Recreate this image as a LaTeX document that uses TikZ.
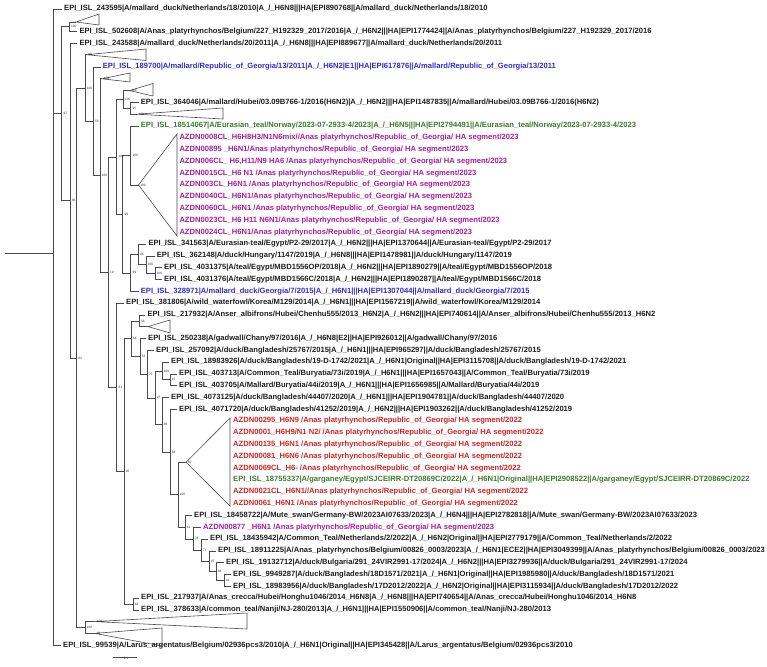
\documentclass[tikz,border=0pt]{standalone}
\usepackage{fontspec}
\setmainfont{Liberation Sans}
\usetikzlibrary{positioning,calc}
\definecolor{treeLine}{HTML}{4A4A4A}
\definecolor{seqBlack}{HTML}{1E1E1E}
\definecolor{seqBlue}{HTML}{2B2FC9}
\definecolor{seqGreen}{HTML}{3C7A2E}
\definecolor{seqMagenta}{HTML}{A61E9C}
\definecolor{seqRed}{HTML}{D02424}
\tikzset{
  branch/.style={draw=treeLine, line width=0.6pt},
  clade/.style={draw=treeLine, line width=0.6pt, line join=miter},
  seq/.style={anchor=west, inner xsep=2pt, inner ysep=0pt, font=\fontsize{7.6}{8}\selectfont\bfseries, text=#1},
  seq/.default=seqBlack,
  boot/.style={anchor=west, inner sep=0.4pt, xshift=1.2pt, font=\fontsize{3.2}{3.5}\selectfont, text=black!80},
}

\begin{document}
\begin{tikzpicture}[x=1pt, y=-1pt]
\useasboundingbox (0,0) rectangle (767,666);

% Inner nodes
\coordinate (nRoot) at (5,253);
\coordinate (nR) at (53.3,253);
\coordinate (nB) at (61.7,113.7);
\coordinate (nA) at (69.3,26.8);
\coordinate (nD) at (70,200.6);
\coordinate (nE) at (76.5,357.9);
\coordinate (nF) at (85,88.2);
\coordinate (nG) at (93.3,121.2);
\coordinate (nI) at (100,175.4);
\coordinate (nN19) at (108.3,272);
\coordinate (nM) at (116.7,156.8);
\coordinate (nJ) at (123.3,99.5);
\coordinate (nK) at (130.7,108.3);
\coordinate (nQ) at (122.7,214.1);
\coordinate (nGM) at (130.7,155.5);
\coordinate (nH) at (130.7,272.8);
\coordinate (nN1) at (138.3,254.3);
\coordinate (nN2) at (146,264.7);
\coordinate (nN3) at (155,273.5);
\coordinate (nN81) at (116.7,387.1);
\coordinate (nN95) at (124,471.2);
\coordinate (nN54) at (131,338.6);
\coordinate (nN56) at (139.3,320.9);
\coordinate (nN53) at (140,356.2);
\coordinate (nN75) at (147,374);
\coordinate (nN97) at (155,397.8);
\coordinate (nNb100) at (162,370.9);
\coordinate (nNb97) at (170,379.7);
\coordinate (nN96) at (162,424.7);
\coordinate (nN88) at (170,451.9);
\coordinate (nN100) at (178,494.6);
\coordinate (nN61) at (185,527.2);
\coordinate (nN78) at (193,538.8);
\coordinate (nN71) at (201,550.3);
\coordinate (nN45) at (209,561.3);
\coordinate (nN84) at (216,571.7);
\coordinate (nN42) at (224,580.3);
\coordinate (nN64) at (133,603.9);
\coordinate (nP) at (85,627.5);

% Collapsed clades
\coordinate (c1) at (76,22);
\coordinate (c2) at (86.5,54.7);
\coordinate (c3) at (102,78.8);
\coordinate (c4) at (129.5,90.6);
\coordinate (c5) at (136.7,114.2);
\coordinate (cMag) at (138.5,185);
\coordinate (c6) at (148,326.6);
\coordinate (cRed) at (186,462.3);
\coordinate (c7) at (95,621.6);
\coordinate (c8) at (95,633.4);
\draw[clade] (c1) -- (99,14) -- (99,25) -- cycle;
\draw[clade] (c2) -- (146,49) -- (146,60.5) -- cycle;
\draw[clade] (c3) -- (130,73) -- (130,82) -- cycle;
\draw[clade] (c4) -- (153,83.5) -- (153,96) -- cycle;
\draw[clade] (c5) -- (223,108) -- (223,119) -- cycle;
\draw[clade] (cMag) -- (177,134) -- (177,236) -- cycle;
\draw[clade] (c6) -- (170,320) -- (170,333) -- cycle;
\draw[clade] (cRed) -- (230,418) -- (230,506) -- cycle;
\draw[clade] (c7) -- (247,613) -- (247,629) -- cycle;
\draw[clade] (c8) -- (162,628) -- (162,646) -- cycle;

% Sequences
\node[seq] (s243595) at (62,9) {EPI\_ISL\_243595|A/mallard\_duck/Netherlands/18/2010|A\_/\_H6N8|||HA|EPI890768||A/mallard\_duck/Netherlands/18/2010};
\node[seq] (s502608) at (77.3,31.6) {EPI\_ISL\_502608|A/Anas\_platyrhynchos/Belgium/227\_H192329\_2017/2016|A\_/\_H6N2|||HA|EPI1774424||A/Anas\_platyrhynchos/Belgium/227\_H192329\_2017/2016};
\node[seq] (s243588) at (77.3,43.4) {EPI\_ISL\_243588|A/mallard\_duck/Netherlands/20/2011|A\_/\_H6N8|||HA|EPI889677||A/mallard\_duck/Netherlands/20/2011};
\node[seq=seqBlue] (s189700) at (100.7,67) {EPI\_ISL\_189700|A/mallard/Republic\_of\_Georgia/13/2011|A\_/\_H6N2|E1||HA|EPI617876||A/mallard/Republic\_of\_Georgia/13/2011};
\node[seq] (s364046) at (138.7,102.4) {EPI\_ISL\_364046|A/mallard/Hubei/03.09B766-1/2016(H6N2)|A\_/\_H6N2|||HA|EPI1487835||A/mallard/Hubei/03.09B766-1/2016(H6N2)};
\node[seq=seqGreen] (s18514067) at (138.7,126) {EPI\_ISL\_18514067|A/Eurasian\_teal/Norway/2023-07-2933-4/2023|A\_/\_H6N5|||HA|EPI2794491||A/Eurasian\_teal/Norway/2023-07-2933-4/2023};
\node[seq=seqMagenta] (g1) at (177.3,137.8) {AZDN0008CL\_H6H8H3/N1N6mix//Anas platyrhynchos/Republic\_of\_Georgia/ HA segment/2023};
\node[seq=seqMagenta] (g2) at (177.3,149.6) {AZDN00895 \_H6N1/Anas platyrhynchos/Republic\_of\_Georgia/ HA segment/2023};
\node[seq=seqMagenta] (g3) at (177.3,161.4) {AZDN006CL\_ H6,H11/N9 HA6 /Anas platyrhynchos/Republic\_of\_Georgia/ HA segment/2023};
\node[seq=seqMagenta] (g4) at (177.3,173.2) {AZDN0015CL\_H6 N1 /Anas platyrhynchos/Republic\_of\_Georgia/ HA segment/2023};
\node[seq=seqMagenta] (g5) at (177.3,185) {AZDN003CL\_H6N1 /Anas platyrhynchos/Republic\_of\_Georgia/ HA segment/2023};
\node[seq=seqMagenta] (g6) at (177.3,196.8) {AZDN0040CL\_H6N1/Anas platyrhynchos/Republic\_of\_Georgia/ HA segment/2023};
\node[seq=seqMagenta] (g7) at (177.3,208.6) {AZDN0060CL\_H6N1 /Anas platyrhynchos/Republic\_of\_Georgia/ HA segment/2023};
\node[seq=seqMagenta] (g8) at (177.3,220.4) {AZDN0023CL\_H6 H11 N6N1/Anas platyrhynchos/Republic\_of\_Georgia/ HA segment/2023};
\node[seq=seqMagenta] (g9) at (177.3,232.2) {AZDN0024CL\_H6N1/Anas platyrhynchos/Republic\_of\_Georgia/ HA segment/2023};
\node[seq] (s341563) at (146.3,244) {EPI\_ISL\_341563|A/Eurasian-teal/Egypt/P2-29/2017|A\_/\_H6N2|||HA|EPI1370644||A/Eurasian-teal/Egypt/P2-29/2017};
\node[seq] (s362148) at (154.7,255.8) {EPI\_ISL\_362148|A/duck/Hungary/1147/2019|A\_/\_H6N8|||HA|EPI1478981||A/duck/Hungary/1147/2019};
\node[seq] (s4031375) at (162,267.6) {EPI\_ISL\_4031375|A/teal/Egypt/MBD1556OP/2018|A\_/\_H6N2|||HA|EPI1890279||A/teal/Egypt/MBD1556OP/2018};
\node[seq] (s4031376) at (162,279.4) {EPI\_ISL\_4031376|A/teal/Egypt/MBD1566C/2018|A\_/\_H6N2|||HA|EPI1890287||A/teal/Egypt/MBD1566C/2018};
\node[seq=seqBlue] (s328971) at (138.7,291.2) {EPI\_ISL\_328971|A/mallard\_duck/Georgia/7/2015|A\_/\_H6N1|||HA|EPI1307044||A/mallard\_duck/Georgia/7/2015};
\node[seq] (s381806) at (124,303) {EPI\_ISL\_381806|A/wild\_waterfowl/Korea/M129/2014|A\_/\_H6N1|||HA|EPI1567219||A/wild\_waterfowl/Korea/M129/2014};
\node[seq] (s217932) at (145.3,314.8) {EPI\_ISL\_217932|A/Anser\_albifrons/Hubei/Chenhu555/2013\_H6N2|A\_/\_H6N2|||HA|EPI740614||A/Anser\_albifrons/Hubei/Chenhu555/2013\_H6N2};
\node[seq] (s250238) at (146,338.4) {EPI\_ISL\_250238|A/gadwall/Chany/97/2016|A\_/\_H6N8|E2||HA|EPI926012||A/gadwall/Chany/97/2016};
\node[seq] (s257092) at (154,350.2) {EPI\_ISL\_257092|A/duck/Bangladesh/25767/2015|A\_/\_H6N1|||HA|EPI965297||A/duck/Bangladesh/25767/2015};
\node[seq] (s18983926) at (169,362) {EPI\_ISL\_18983926|A/duck/Bangladesh/19-D-1742/2021|A\_/\_H6N1|Original||HA|EPI3115708||A/duck/Bangladesh/19-D-1742/2021};
\node[seq] (s403713) at (177,373.8) {EPI\_ISL\_403713|A/Common\_Teal/Buryatia/73i/2019|A\_/\_H6N1|||HA|EPI1657043||A/Common\_Teal/Buryatia/73i/2019};
\node[seq] (s403705) at (177,385.6) {EPI\_ISL\_403705|A/Mallard/Buryatia/44i/2019|A\_/\_H6N1|||HA|EPI1656985||A/Mallard/Buryatia/44i/2019};
\node[seq] (s4073125) at (169,397.4) {EPI\_ISL\_4073125|A/duck/Bangladesh/44407/2020|A\_/\_H6N1|||HA|EPI1904781||A/duck/Bangladesh/44407/2020};
\node[seq] (s4071720) at (177,409.2) {EPI\_ISL\_4071720|A/duck/Bangladesh/41252/2019|A\_/\_H6N2|||HA|EPI1903262||A/duck/Bangladesh/41252/2019};
\node[seq=seqRed] (r1) at (231,421) {AZDN00295\_H6N9 /Anas platyrhynchos/Republic\_of\_Georgia/ HA segment/2022};
\node[seq=seqRed] (r2) at (231,432.8) {AZDN0001\_H6H9/N1 N2/ /Anas platyrhynchos/Republic\_of\_Georgia/ HA segment/2022};
\node[seq=seqRed] (r3) at (231,444.6) {AZDN00135\_H6N1 /Anas platyrhynchos/Republic\_of\_Georgia/ HA segment/2022};
\node[seq=seqRed] (r4) at (231,456.4) {AZDN00081\_H6N6 /Anas platyrhynchos/Republic\_of\_Georgia/ HA segment/2022};
\node[seq=seqRed] (r5) at (231,468.2) {AZDN0069CL\_H6- /Anas platyrhynchos/Republic\_of\_Georgia/ HA segment/2022};
\node[seq=seqGreen] (r6) at (231,480) {EPI\_ISL\_18755337|A/garganey/Egypt/SJCEIRR-DT20869C/2022|A\_/\_H6N1|Original||HA|EPI2908522||A/garganey/Egypt/SJCEIRR-DT20869C/2022};
\node[seq=seqRed] (r7) at (231,491.8) {AZDN0021CL\_H6N1//Anas platyrhynchos/Republic\_of\_Georgia/ HA segment/2022};
\node[seq=seqRed] (r8) at (231,503.6) {AZDN0061\_H6N1 /Anas platyrhynchos/Republic\_of\_Georgia/ HA segment/2022};
\node[seq] (s18458722) at (192,515.4) {EPI\_ISL\_18458722|A/Mute\_swan/Germany-BW/2023AI07633/2023|A\_/\_H6N4|||HA|EPI2782818||A/Mute\_swan/Germany-BW/2023AI07633/2023};
\node[seq=seqMagenta] (s00877) at (201,527.2) {AZDN00877 \_H6N1 /Anas platyrhynchos/Republic\_of\_Georgia/ HA segment/2023};
\node[seq] (s18435942) at (208,539) {EPI\_ISL\_18435942|A/Common\_Teal/Netherlands/2/2022|A\_/\_H6N2|Original||HA|EPI2779179||A/Common\_Teal/Netherlands/2/2022};
\node[seq] (s18911225) at (216,550.8) {EPI\_ISL\_18911225|A/Anas\_platyrhynchos/Belgium/00826\_0003/2023|A\_/\_H6N1|ECE2||HA|EPI3049399||A/Anas\_platyrhynchos/Belgium/00826\_0003/2023};
\node[seq] (s19132712) at (224,562.6) {EPI\_ISL\_19132712|A/duck/Bulgaria/291\_24VIR2991-17/2024|A\_/\_H6N2|||HA|EPI3279936||A/duck/Bulgaria/291\_24VIR2991-17/2024};
\node[seq] (s9949287) at (231,574.4) {EPI\_ISL\_9949287|A/duck/Bangladesh/18D1571/2021|A\_/\_H6N1|Original||HA|EPI1985980||A/duck/Bangladesh/18D1571/2021};
\node[seq] (s18983956) at (231,586.2) {EPI\_ISL\_18983956|A/duck/Bangladesh/17D2012/2022|A\_/\_H6N2|Original||HA|EPI3115934||A/duck/Bangladesh/17D2012/2022};
\node[seq] (s217937) at (139,598) {EPI\_ISL\_217937|A/Anas\_crecca/Hubei/Honghu1046/2014\_H6N8|A\_/\_H6N8|||HA|EPI740654||A/Anas\_crecca/Hubei/Honghu1046/2014\_H6N8};
\node[seq] (s378633) at (139,609.8) {EPI\_ISL\_378633|A/common\_teal/Nanji/NJ-280/2013|A\_/\_H6N1|||HA|EPI1550906||A/common\_teal/Nanji/NJ-280/2013};
\node[seq] (s99539) at (61,645.2) {EPI\_ISL\_99539|A/Larus\_argentatus/Belgium/02936pcs3/2010|A\_/\_H6N1|Original||HA|EPI345428||A/Larus\_argentatus/Belgium/02936pcs3/2010};

% Branches
\draw[branch] (nRoot) -- (nR);
\draw[branch] (nR) |- (s243595.west);
\draw[branch] (nR) |- (nB);
\draw[branch] (nR) |- (s99539.west);
\draw[branch] (nB) |- (nA);
\draw[branch] (nB) |- (nD);
\draw[branch] (nA) |- (c1);
\draw[branch] (nA) |- (s502608.west);
\draw[branch] (nD) |- (s243588.west);
\draw[branch] (nD) |- (nE);
\draw[branch] (nE) |- (nF);
\draw[branch] (nE) |- (nP);
\draw[branch] (nF) |- (c2);
\draw[branch] (nF) |- (nG);
\draw[branch] (nG) |- (s189700.west);
\draw[branch] (nG) |- (nI);
\draw[branch] (nI) |- (c3);
\draw[branch] (nI) |- (nN19);
\draw[branch] (nN19) |- (nM);
\draw[branch] (nN19) |- (nN81);
\draw[branch] (nM) |- (nJ);
\draw[branch] (nM) |- (nQ);
\draw[branch] (nJ) |- (c4);
\draw[branch] (nJ) |- (nK);
\draw[branch] (nK) |- (s364046.west);
\draw[branch] (nK) |- (c5);
\draw[branch] (nQ) |- (nGM);
\draw[branch] (nQ) |- (nH);
\draw[branch] (nGM) |- (s18514067.west);
\draw[branch] (nGM) |- (cMag);
\draw[branch] (nH) |- (nN1);
\draw[branch] (nH) |- (s328971.west);
\draw[branch] (nN1) |- (s341563.west);
\draw[branch] (nN1) |- (nN2);
\draw[branch] (nN2) |- (s362148.west);
\draw[branch] (nN2) |- (nN3);
\draw[branch] (nN3) |- (s4031375.west);
\draw[branch] (nN3) |- (s4031376.west);
\draw[branch] (nN81) |- (s381806.west);
\draw[branch] (nN81) |- (nN95);
\draw[branch] (nN95) |- (nN54);
\draw[branch] (nN95) |- (nN64);
\draw[branch] (nN54) |- (nN56);
\draw[branch] (nN54) |- (nN53);
\draw[branch] (nN56) |- (s217932.west);
\draw[branch] (nN56) |- (c6);
\draw[branch] (nN53) |- (s250238.west);
\draw[branch] (nN53) |- (nN75);
\draw[branch] (nN75) |- (s257092.west);
\draw[branch] (nN75) |- (nN97);
\draw[branch] (nN97) |- (nNb100);
\draw[branch] (nN97) |- (nN96);
\draw[branch] (nNb100) |- (s18983926.west);
\draw[branch] (nNb100) |- (nNb97);
\draw[branch] (nNb97) |- (s403713.west);
\draw[branch] (nNb97) |- (s403705.west);
\draw[branch] (nN96) |- (s4073125.west);
\draw[branch] (nN96) |- (nN88);
\draw[branch] (nN88) |- (s4071720.west);
\draw[branch] (nN88) |- (nN100);
\draw[branch] (nN100) |- (cRed);
\draw[branch] (nN100) |- (nN61);
\draw[branch] (nN61) |- (s18458722.west);
\draw[branch] (nN61) |- (nN78);
\draw[branch] (nN78) |- (s00877.west);
\draw[branch] (nN78) |- (nN71);
\draw[branch] (nN71) |- (s18435942.west);
\draw[branch] (nN71) |- (nN45);
\draw[branch] (nN45) |- (s18911225.west);
\draw[branch] (nN45) |- (nN84);
\draw[branch] (nN84) |- (s19132712.west);
\draw[branch] (nN84) |- (nN42);
\draw[branch] (nN42) |- (s9949287.west);
\draw[branch] (nN42) |- (s18983956.west);
\draw[branch] (nN64) |- (s217937.west);
\draw[branch] (nN64) |- (s378633.west);
\draw[branch] (nP) |- (c7);
\draw[branch] (nP) |- (c8);

% Bootstrap values
\node[boot] at (nA) {100};
\node[boot] at (nB) {97};
\node[boot] at (nD) {96};
\node[boot] at (nE) {83};
\node[boot] at (nF) {100};
\node[boot] at (c2) {98};
\node[boot] at (nG) {55};
\node[boot] at (nI) {100};
\node[boot] at (c3) {100};
\node[boot] at (nN19) {19};
\node[boot] at (nM) {100};
\node[boot] at (nJ) {100};
\node[boot] at (c4) {100};
\node[boot] at (nK) {95};
\node[boot] at (c5) {100};
\node[boot] at (nQ) {99};
\node[boot] at (nGM) {100};
\node[boot] at (cMag) {100};
\node[boot] at (nH) {69};
\node[boot] at (nN1) {96};
\node[boot] at (nN2) {100};
\node[boot] at (nN3) {100};
\node[boot] at (nN81) {81};
\node[boot] at (nN95) {95};
\node[boot] at (nN54) {54};
\node[boot] at (nN56) {56};
\node[boot] at (nN53) {53};
\node[boot] at (nN75) {75};
\node[boot] at (nN97) {97};
\node[boot] at (nNb100) {100};
\node[boot] at (nNb97) {97};
\node[boot] at (nN96) {96};
\node[boot] at (nN88) {88};
\node[boot] at (cRed) {60};
\node[boot] at (nN100) {100};
\node[boot] at (nN61) {61};
\node[boot] at (nN78) {78};
\node[boot] at (nN71) {71};
\node[boot] at (nN45) {45};
\node[boot] at (nN84) {84};
\node[boot] at (nN42) {42};
\node[boot] at (nN64) {64};
\node[boot] at (nP) {100};
\node[boot] at (c7) {100};
\node[boot] at (c8) {99};

% Scale bar
\coordinate (sb1) at (113,657);
\coordinate (sb2) at (137,657);
\draw[branch] (sb1) -- (sb2);
\node[boot, anchor=north, xshift=0pt] (sbl) at ($(sb1)!0.5!(sb2)$) {0.1};
\end{tikzpicture}
\end{document}
